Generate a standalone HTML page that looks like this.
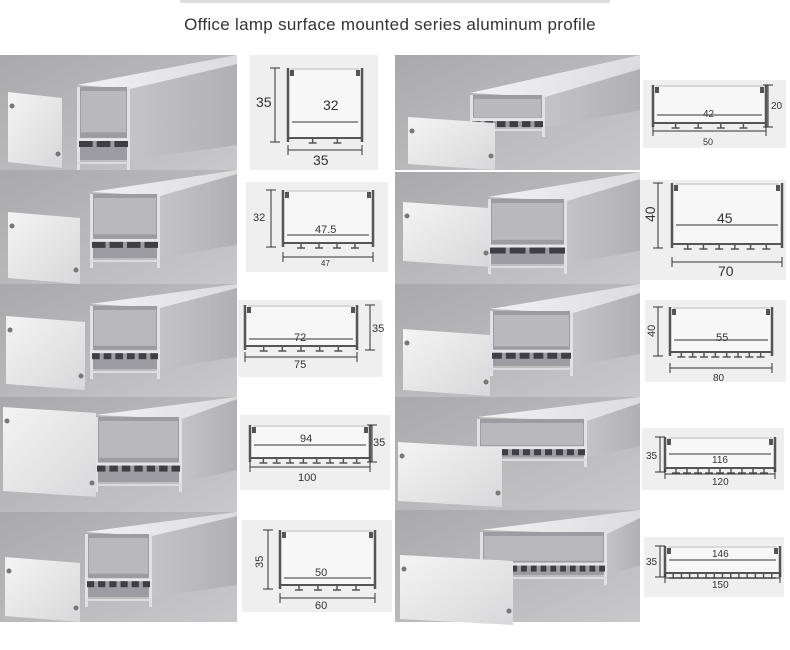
<!DOCTYPE html>
<html><head><meta charset="utf-8"><style>
html,body{margin:0;padding:0;background:#fff;width:790px;height:650px;overflow:hidden}
svg{display:block}
text{font-family:"Liberation Sans",sans-serif;fill:#333}
</style></head><body>
<svg id="s" width="790" height="650" viewBox="0 0 790 650" xmlns="http://www.w3.org/2000/svg">
<defs>
<linearGradient id="bg" x1="0" y1="0" x2="1" y2="1"><stop offset="0" stop-color="#a9a9ab"/><stop offset="1" stop-color="#c9c9cc"/></linearGradient>
<linearGradient id="top" x1="0" y1="0" x2="1" y2="0"><stop offset="0" stop-color="#f2f2f5"/><stop offset="1" stop-color="#dcdce0"/></linearGradient>
<linearGradient id="side" x1="0" y1="0" x2="1" y2="0"><stop offset="0" stop-color="#c4c4c8"/><stop offset="1" stop-color="#b0b0b4"/></linearGradient>
<linearGradient id="plate" x1="0" y1="0" x2="1" y2="1"><stop offset="0" stop-color="#f4f4f4"/><stop offset="1" stop-color="#d8d8da"/></linearGradient>
</defs>
<rect x="180" y="0" width="430" height="3" fill="#ddd"/>
<text x="390" y="30" text-anchor="middle" font-size="17" letter-spacing="0.3" fill="#222">Office lamp surface mounted series aluminum profile</text>
<g id="photos"></g>
<g id="diag"></g>
<g font-size="11">
<text x="323" y="110" font-size="14">32</text>
<text x="256" y="107" font-size="14">35</text>
<text x="313" y="165" font-size="14">35</text>
<text x="315" y="233">47.5</text>
<text x="253" y="221">32</text>
<text x="321" y="266" font-size="8">47</text>
<text x="294" y="341">72</text>
<text x="372" y="332">35</text>
<text x="294" y="368">75</text>
<text x="300" y="442">94</text>
<text x="373" y="446">35</text>
<text x="298" y="481">100</text>
<text x="315" y="576">50</text>
<text x="263" y="568" transform="rotate(-90 263 568)">35</text>
<text x="315" y="609">60</text>
<text x="703" y="117" font-size="10">42</text>
<text x="771" y="109" font-size="10">20</text>
<text x="703" y="145" font-size="9">50</text>
<text x="717" y="223" font-size="14">45</text>
<text x="655" y="222" font-size="14" transform="rotate(-90 655 222)">40</text>
<text x="718" y="276" font-size="14">70</text>
<text x="716" y="341" font-size="11">55</text>
<text x="655" y="337" font-size="11" transform="rotate(-90 655 337)">40</text>
<text x="713" y="381" font-size="10">80</text>
<text x="712" y="463" font-size="10">116</text>
<text x="646" y="459" font-size="10">35</text>
<text x="712" y="485" font-size="10">120</text>
<text x="712" y="557" font-size="10">146</text>
<text x="646" y="565" font-size="10">35</text>
<text x="712" y="588" font-size="10">150</text>
</g>
</svg>
<script>
var NS="http://www.w3.org/2000/svg";
function el(p,t,a){var e=document.createElementNS(NS,t);for(var k in a)e.setAttribute(k,a[k]);p.appendChild(e);return e;}
var P=document.getElementById("photos"),D=document.getElementById("diag");
function pts(a){return a.map(function(p){return p[0]+","+p[1]}).join(" ");}
function photo(x,y,w,h,fx0,fx1,fy0,fy1,s,px0,px1,py0,py1,n){
 var g=el(P,"g",{});
 el(g,"rect",{x:x,y:y,width:w,height:h,fill:"url(#bg)"});
 var X=function(v){return x+v},Y=function(v){return y+v};
 // side face
 el(g,"polygon",{points:pts([[X(fx1),Y(fy0+4)],[X(fx1),Y(fy1)],[X(w),Y(fy1-s*0.6)],[X(w),Y(fy0+4-s)]]),fill:"url(#side)"});
 // top face
 el(g,"polygon",{points:pts([[X(fx0),Y(fy0)],[X(fx1),Y(fy0+4)],[X(w),Y(fy0+4-s)],[X(w),Y(Math.max(0,fy0-s-14))]]),fill:"url(#top)"});
 // front opening
 el(g,"rect",{x:X(fx0),y:Y(fy0+2),width:fx1-fx0,height:fy1-fy0-2,fill:"#9c9ca2"});
 el(g,"rect",{x:X(fx0+4),y:Y(fy0+6),width:fx1-fx0-8,height:(fy1-fy0)*0.55,fill:"#b8b8bd"});
 el(g,"rect",{x:X(fx0),y:Y(fy0+2),width:3,height:fy1-fy0+8,fill:"#e2e2e6"});
 el(g,"rect",{x:X(fx1-3),y:Y(fy0+2),width:3,height:fy1-fy0+8,fill:"#e2e2e6"});
 var ry=fy0+2+(fy1-fy0)*0.68;
 el(g,"rect",{x:X(fx0),y:Y(ry),width:fx1-fx0,height:3,fill:"#e6e6ea"});
 var cw=(fx1-fx0)/n;
 for(var i=0;i<n;i++){el(g,"rect",{x:X(fx0+i*cw+2),y:Y(ry+3),width:cw-4,height:6,fill:"#3e3e44"});}
 el(g,"rect",{x:X(fx0),y:Y(fy1+2),width:fx1-fx0,height:2,fill:"#dcdce0"});
 // plate
 el(g,"polygon",{points:pts([[X(px0),Y(py0)],[X(px1),Y(py0+6)],[X(px1),Y(py1)],[X(px0),Y(py1-6)]]),fill:"url(#plate)"});
 el(g,"circle",{cx:X(px0+4),cy:Y(py0+14),r:2.5,fill:"#777"});
 el(g,"circle",{cx:X(px1-4),cy:Y(py1-14),r:2.5,fill:"#777"});
}
photo(0,55,237,115, 77,130,30,105,25, 8,62,37,113,3);
photo(0,170,237,114, 90,160,22,88,22, 8,80,42,114,4);
photo(0,284,237,113, 90,160,20,85,20, 6,85,32,106,6);
photo(0,397,237,115, 95,182,18,85,20, 3,96,10,100,7);
photo(0,512,237,110, 85,152,20,85,20, 5,80,45,110,6);
photo(395,55,245,115, 75,150,38,72,28, 13,100,62,115,6);
photo(395,172,245,112, 93,172,25,92,22, 8,95,30,95,4);
photo(395,284,245,113, 95,178,25,82,20, 8,95,45,112,6);
photo(395,397,245,113, 82,192,20,60,18, 3,107,45,110,10);
photo(395,510,245,112, 85,212,20,65,16, 5,118,45,115,13);
function line(a,b,c,d,w,col){el(D,"line",{x1:a,y1:b,x2:c,y2:d,stroke:col||"#444","stroke-width":w||1});}
function diag(bx,by,bw,bh,L,R,T,B,iy,hside,hx,wy,feet){
 el(D,"rect",{x:bx,y:by,width:bw,height:bh,fill:"#efefef"});
 el(D,"rect",{x:L,y:T,width:R-L,height:B-T,fill:"#f7f7f7"});
 line(L,T,L,B+4,2.5,"#555");line(R,T,R,B+4,2.5,"#555");
 line(L+3,T+1,R-3,T+1,2,"#d8d8d8");
 line(L,B,R,B,2,"#555");
 line(L+4,iy,R-4,iy,1,"#333");
 for(var i=1;i<=feet;i++){var fx=L+(R-L)*i/(feet+1);line(fx,B,fx,B+5,1.5,"#555");line(fx-4,B+5,fx+4,B+5,1.5,"#555");}
 el(D,"rect",{x:L+2,y:T+2,width:4,height:6,fill:"#555"});el(D,"rect",{x:R-6,y:T+2,width:4,height:6,fill:"#555"});
 line(hx,T,hx,B+4,1,"#333");line(hx-5,T,hx+5,T,1,"#333");line(hx-5,B+4,hx+5,B+4,1,"#333");
 line(L,wy,R,wy,1,"#333");line(L,wy-5,L,wy+5,1,"#333");line(R,wy-5,R,wy+5,1,"#333");
}
diag(250,55,128,115, 288,362,68,138,122,0,275,150,2);
diag(246,182,142,90, 283,373,190,243,235,0,271,257,4);
diag(238,300,144,77, 245,357,305,346,339,1,370,357,5);
diag(240,415,150,75, 250,370,425,458,445,1,372,467,8);
diag(242,520,150,92, 280,375,530,585,578,0,268,598,4);
diag(643,80,143,68, 653,766,85,123,115,1,768,131,4);
diag(640,180,146,100, 672,782,183,244,225,0,658,262,6);
diag(645,300,141,82, 670,772,307,352,340,0,658,368,8);
diag(642,428,142,62, 665,775,437,468,454,0,660,474,9);
diag(644,537,140,60, 665,780,546,573,560,0,660,578,13);
</script>
</body></html>
